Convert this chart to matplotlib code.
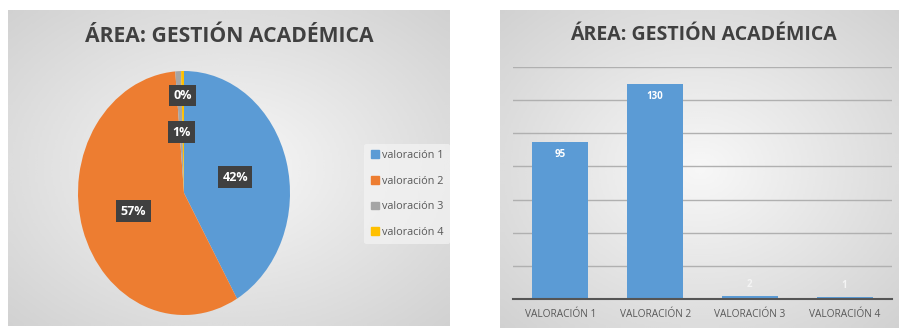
"""
Área: Gestión Académica - pie and bar chart side by side
"""
import numpy as np
import matplotlib
matplotlib.use("Agg")
import matplotlib.pyplot as plt
from matplotlib import font_manager

# Data
categorias = ["valoración 1", "valoración 2", "valoración 3", "valoración 4"]
valores = [95, 130, 2, 1]
etiquetas_barras = ["VALORACIÓN 1", "VALORACIÓN 2", "VALORACIÓN 3", "VALORACIÓN 4"]
titulo = "ÁREA: GESTIÓN ACADÉMICA"

colores = ["#5B9BD5", "#ED7D31", "#A5A5A5", "#FFC000"]
installed = {f.name for f in font_manager.fontManager.ttflist}
FONT = "Liberation Sans Narrow" if "Liberation Sans Narrow" in installed else "Open Sans"
plt.rcParams["font.family"] = [FONT, "DejaVu Sans"]

W, H = 899, 328
fig = plt.figure(figsize=(W / 100, H / 100), dpi=100)
fig.patch.set_facecolor("white")


def px_rect(x0, y0, x1, y1):
    """pixel box (top-left origin) -> figure fraction rect"""
    return [x0 / W, 1 - y1 / H, (x1 - x0) / W, (y1 - y0) / H]


def gradient_panel(rect):
    ax = fig.add_axes(rect, zorder=0)
    yy, xx = np.mgrid[-1:1:200j, -1:1:200j]
    r = np.sqrt(xx ** 2 + yy ** 2) / np.sqrt(2)
    shade = 0.97 - 0.15 * r
    ax.imshow(shade, cmap="gray", vmin=0, vmax=1, aspect="auto",
              extent=(0, 1, 0, 1), interpolation="bicubic")
    ax.set_axis_off()
    return ax


# Backgrounds
gradient_panel(px_rect(8, 10, 450, 326))
gradient_panel(px_rect(500, 10, 899, 328))

# Titles
fig.text(229 / W, 1 - 36 / H, titulo, ha="center", va="center",
         fontsize=15.2, fontweight="bold", color="#404040", zorder=5)
fig.text(703 / W, 1 - 35 / H, titulo, ha="center", va="center",
         fontsize=14, fontweight="bold", color="#404040", zorder=5)

# ---- Pie ----
ax_pie = fig.add_axes(px_rect(78, 71, 290, 315), zorder=2)
ax_pie.patch.set_alpha(0)
wedges, _ = ax_pie.pie(valores, colors=colores, startangle=90,
                       counterclock=False, radius=1,
                       wedgeprops=dict(linewidth=0))
ax_pie.set_aspect("auto")
ax_pie.set_xlim(-1, 1)
ax_pie.set_ylim(-1, 1)
ax_pie.set_axis_off()

total = sum(valores)
radios = [0.5, 0.5, 0.5, 0.8]
acum = 0
for v, rr in zip(valores, radios):
    mid = acum + v / 2
    acum += v
    ang = np.deg2rad(90 - 360 * mid / total)
    ax_pie.text(rr * np.cos(ang), rr * np.sin(ang), f"{100 * v / total:.0f}%",
                ha="center", va="center", fontsize=9, fontweight="bold",
                color="white",
                bbox=dict(boxstyle="square,pad=0.35", fc="#404040", ec="none"))

# legend
handles = [plt.Rectangle((0, 0), 1, 1, color=c) for c in colores]
leg = fig.legend(handles, categorias, loc="center left",
                 bbox_to_anchor=(359 / W, 1 - 194 / H), frameon=True,
                 fontsize=7.8, handlelength=0.7, handleheight=0.7,
                 handletextpad=0.3, labelspacing=1.35, borderpad=0.6,
                 labelcolor="#595959")
leg.get_frame().set_facecolor("#f4f4f4")
leg.get_frame().set_edgecolor("none")
leg.get_frame().set_alpha(0.7)
leg.set_zorder(5)

# ---- Bars ----
ax_bar = fig.add_axes(px_rect(513, 67, 892, 299), zorder=2)
ax_bar.patch.set_alpha(0)
x = np.arange(len(valores))
bars = ax_bar.bar(x, valores, width=0.59, color="#5B9BD5", zorder=3)
ax_bar.set_xlim(-0.5, len(valores) - 0.5)
ax_bar.set_ylim(0, 140)
ax_bar.set_yticks(np.arange(20, 141, 20))
ax_bar.yaxis.grid(True, color="#b0b0b0", linewidth=1.0, zorder=0)
ax_bar.tick_params(axis="y", left=False, labelleft=False)
ax_bar.tick_params(axis="x", length=0, pad=7, labelsize=7.3, labelcolor="#595959")
ax_bar.set_xticks(x)
ax_bar.set_xticklabels(etiquetas_barras)
for side in ["top", "right", "left"]:
    ax_bar.spines[side].set_visible(False)
ax_bar.spines["bottom"].set_color("#555555")
ax_bar.spines["bottom"].set_linewidth(1.5)
ax_bar.spines["bottom"].set_zorder(4)

for b, v in zip(bars, valores):
    cx = b.get_x() + b.get_width() / 2
    if v > 20:
        ax_bar.text(cx, v - 8, str(v), ha="center", va="center",
                    fontsize=7, fontweight="bold", color="white", zorder=4)
    else:
        ax_bar.text(cx, v + 7, str(v), ha="center", va="center",
                    fontsize=7, fontweight="bold", color="#f4f4f4", zorder=4)

fig.savefig("out.png", dpi=100)
